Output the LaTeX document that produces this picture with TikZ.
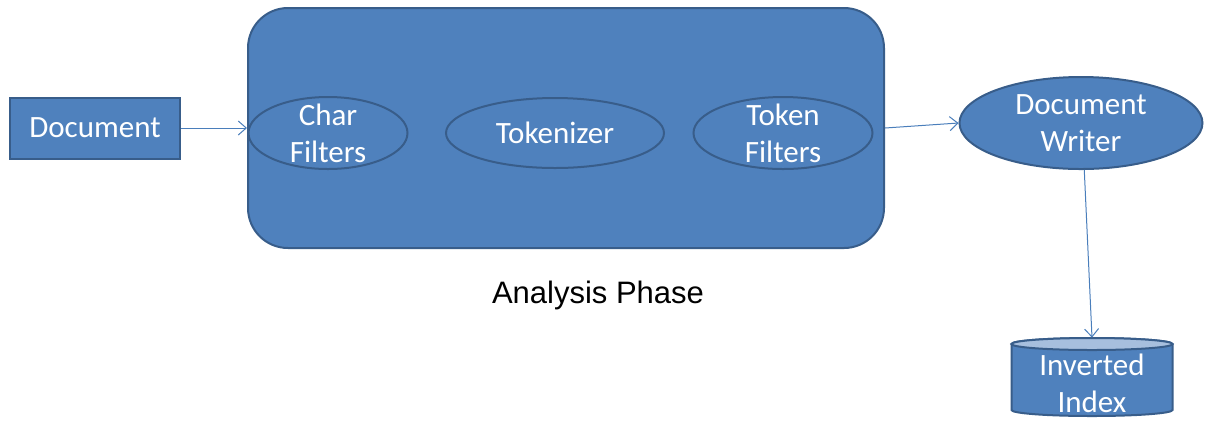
\documentclass[tikz,border=0pt]{standalone}
\usepackage{fontspec}
\setmainfont{Carlito}
\newfontfamily\arialfont{Liberation Sans}
\usetikzlibrary{arrows.meta}
\usetikzlibrary{shapes,shapes.geometric}
\definecolor{officeblue}{HTML}{4F81BD}
\definecolor{officeedge}{HTML}{385D8A}
\definecolor{officetop}{HTML}{A7BFDE}
\definecolor{officeline}{HTML}{4A7EBB}
\tikzset{>={Straight Barb[length=4pt,width=7pt]}}
\tikzset{
  txt/.style={text=white, font=\fontsize{15.5}{18.5}\selectfont, align=center, inner sep=0pt},
  box/.style={draw=officeedge, line width=1pt, fill=officeblue, txt},
  oval/.style={box, ellipse},
  flow/.style={->, officeline, line width=0.5pt}
}

\begin{document}
\begin{tikzpicture}[x=0.5pt,y=-0.5pt]
        \useasboundingbox (0,0) rectangle (1207,420);
        % Input
        \node[box, minimum width=85pt, minimum height=30.5pt] (doc) at (95,128) {Document};

        % Analysis phase
        \node[box, rounded corners=20pt, minimum width=318pt, minimum height=120pt] (phase) at (566,128) {};
        \node[oval, minimum width=79.5pt, minimum height=36pt, label={[txt]center:Char\\Filters}] (char) at (328,133) {};
        \node[oval, minimum width=109pt, minimum height=35pt] (tok) at (555,133) {Tokenizer};
        \node[oval, minimum width=89.5pt, minimum height=36pt, label={[txt]center:Token\\Filters}] (tokf) at (783,133) {};
        \node[font=\arialfont\fontsize{15.5}{18}\selectfont] (phaselabel) at (598,295) {Analysis Phase};

        % Output
        \node[oval, minimum width=121.5pt, minimum height=46pt, label={[txt]center:Document\\Writer}] (writer) at (1081,123) {};
        % Index store (cylinder)
        \draw[officeedge, line width=1pt, fill=officeblue] (1011.5,344) -- (1011.5,410)
              arc[start angle=180, end angle=360, x radius=40.25pt, y radius=3pt] -- (1172.5,344)
              arc[start angle=0, end angle=180, x radius=40.25pt, y radius=3pt] -- cycle;
        \draw[officeedge, line width=1pt, fill=officetop] (1092,344) ellipse[x radius=40.25pt, y radius=3pt];
        \node[txt, minimum width=80.5pt, minimum height=39pt, label={[txt,yshift=-3pt]center:Inverted\\Index}] (index) at (1092,377) {};

        % Connectors
        \draw[flow] (doc.east) -- (doc.east -| phase.west);
        \draw[flow] (phase.east) -- (writer.west);
        \draw[flow] (writer.-86) -- (index.north);
\end{tikzpicture}
\end{document}
